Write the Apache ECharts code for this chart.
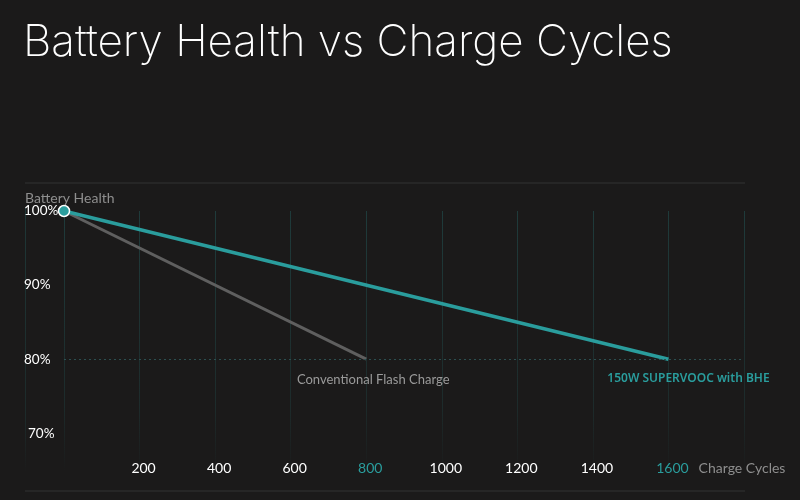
<!DOCTYPE html>
<html>
<head>
<meta charset="utf-8">
<script src="https://cdn.jsdelivr.net/npm/echarts@6/dist/echarts.min.js"></script>
<style>
html,body{margin:0;padding:0;background:#1b1a1a;}
#c{width:800px;height:500px;}
</style>
</head>
<body>
<div id="c"></div>
<script>
// ---- data ----
const titleText = 'Battery Health vs Charge Cycles';
const yAxisTitle = 'Battery Health';
const xAxisTitle = 'Charge Cycles';
const seriesNames = ['Conventional Flash Charge', '150W SUPERVOOC with BHE'];
const conventionalCycles = [0, 800];
const conventionalHealth = [100, 80];
const supervoocCycles = [0, 1600];
const supervoocHealth = [100, 80];
const xTickValues = [200, 400, 600, 800, 1000, 1200, 1400, 1600];
const yTickValues = [70, 80, 90, 100];
const highlightTicks = [800, 1600];

const TEAL = '#2a9d9d';
const GRAYLINE = '#5f5f5f';
const FONT = 'Lato';

const chart = echarts.init(document.getElementById('c'), null, {renderer: 'canvas'});

function pairs(xs, ys){ return xs.map((x,i)=>[x, ys[i]]); }

const option = {
  backgroundColor: '#1b1a1a',
  animation: false,
  title: [
    {text: titleText, left: 18, top: 16,
     textStyle: {color: '#ffffff', fontFamily: 'Inter', fontWeight: 200, fontSize: 44}},
    {text: yAxisTitle, left: 20, top: 186,
     textStyle: {color: '#8e8e8e', fontFamily: FONT, fontWeight: 'normal', fontSize: 14}}
  ],
  graphic: [
    {type: 'line', shape: {x1: 25, y1: 183, x2: 745, y2: 183}, style: {stroke: '#333333', lineWidth: 1}, silent: true},
    {type: 'line', shape: {x1: 25, y1: 491, x2: 745, y2: 491}, style: {stroke: '#333333', lineWidth: 1}, silent: true},
    {type: 'line', shape: {x1: 25.5, y1: 208, x2: 25.5, y2: 472},
     style: {stroke: new echarts.graphic.LinearGradient(0, 208, 0, 472, [
       {offset: 0, color: 'rgba(42,157,157,0.22)'}, {offset: 0.8, color: 'rgba(42,157,157,0.12)'}, {offset: 1, color: 'rgba(42,157,157,0)'}], true), lineWidth: 1}, silent: true}
  ],
  grid: {left: 64, right: 56, top: 211, bottom: 0, containLabel: false},
  xAxis: {
    type: 'value', min: 0, max: 1800, interval: 200,
    axisLine: {show: false}, axisTick: {show: false},
    splitLine: {show: true, lineStyle: {width: 1,
      color: new echarts.graphic.LinearGradient(0, 211, 0, 472, [
        {offset: 0, color: 'rgba(42,157,157,0.25)'}, {offset: 0.75, color: 'rgba(42,157,157,0.13)'}, {offset: 1, color: 'rgba(42,157,157,0)'}], true)}},
    axisLabel: {
      inside: true, margin: 25, fontFamily: FONT, fontSize: 14, color: '#ffffff',
      padding: [0, 0, 0, 8],
      formatter: function(v){
        if (v === 0) return '';
        if (v === 1800) return '{n|' + xAxisTitle + '}';
        if (highlightTicks.indexOf(v) >= 0) return '{h|' + v + '}';
        if (xTickValues.indexOf(v) >= 0) return String(v);
        return '';
      },
      rich: {
        h: {color: TEAL, fontFamily: FONT, fontSize: 14},
        n: {color: '#8e8e8e', fontFamily: FONT, fontSize: 14, padding: [0, 12, 0, 0]}
      }
    }
  },
  yAxis: {
    type: 'value', min: 61, max: 100,
    axisLine: {show: false}, axisTick: {show: false}, splitLine: {show: false},
    axisLabel: {
      customValues: yTickValues,
      margin: 40, align: 'left', fontFamily: FONT, fontSize: 13.5, color: '#ffffff',
      formatter: function(v){
        if (v === 70) return '{s|' + v + '%}';
        return v + '%';
      },
      rich: {s: {padding: [0, 0, 0, 4], color: '#ffffff', fontFamily: FONT, fontSize: 13.5}}
    }
  },
  series: [
    {
      name: seriesNames[0], type: 'line', z: 2,
      data: pairs(conventionalCycles, conventionalHealth).map((p, i) => i === 1 ? {
        value: p, label: {show: true, position: 'bottom', distance: 14, offset: [7, 0],
          formatter: seriesNames[0], color: '#9a9a9a', fontFamily: FONT, fontSize: 13}} : {value: p}),
      showSymbol: true, symbol: 'circle', symbolSize: 0,
      itemStyle: {color: GRAYLINE},
      lineStyle: {color: GRAYLINE, width: 3}
    },
    {
      name: seriesNames[1], type: 'line', z: 3,
      data: pairs(supervoocCycles, supervoocHealth).map((p, i) => i === 0 ? {
        value: p, symbol: 'circle', symbolSize: 11,
        itemStyle: {color: TEAL, borderColor: '#ffffff', borderWidth: 1.5}} : {
        value: p, symbol: 'circle', symbolSize: 0, label: {show: true, position: 'bottom', distance: 13, offset: [20, 0],
          formatter: seriesNames[1], color: TEAL, fontFamily: 'Noto Sans', fontWeight: 600, fontSize: 12}}),
      showSymbol: true, showAllSymbol: true,
      itemStyle: {color: TEAL},
      lineStyle: {color: TEAL, width: 3.5},
      markLine: {
        silent: true, symbol: 'none', label: {show: false},
        lineStyle: {color: '#2c4f50', type: [2, 3], width: 1.2},
        data: [{yAxis: supervoocHealth[1]}]
      }
    }
  ]
};
chart.setOption(option);
</script>
</body>
</html>
